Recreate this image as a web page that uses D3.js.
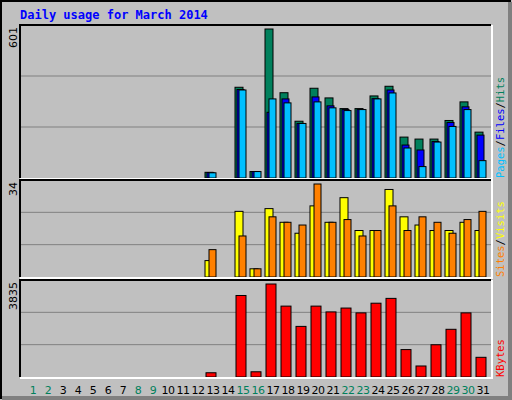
<!DOCTYPE html>
<html>
<head>
  <title>Daily usage for March 2014</title>
  <style>body{margin:0;background:#fff}</style>
</head>
<body>
  <svg id="svg"></svg>
  <script src="https://d3js.org/d3.v7.min.js"></script>
  <script>
    let days = d3.range(1, 32);
    let weekend = [1, 2, 8, 9, 15, 16, 22, 23, 29, 30];
    // 0 = no traffic
    let hits   = [0,0,0,0,0,0,0,0,0,0,0,0,23,0,366,26,601,344,229,362,323,280,280,331,370,165,157,157,232,307,185];
    let files  = [0,0,0,0,0,0,0,0,0,0,0,0,22,0,357,26,265,319,220,327,291,276,276,320,355,133,113,147,224,287,173];
    let pages  = [0,0,0,0,0,0,0,0,0,0,0,0,21,0,355,26,319,303,220,307,283,272,276,319,343,121,46,145,208,276,70];
    let visits = [0,0,0,0,0,0,0,0,0,0,0,0,6,0,24,3,25,20,16,26,20,29,17,17,32,22,19,17,17,20,17];
    let sites  = [0,0,0,0,0,0,0,0,0,0,0,0,10,0,15,3,22,20,19,34,20,21,15,17,26,17,22,20,16,21,24];
    let kbytes = [0,0,0,0,0,0,0,0,0,0,0,0,175,0,3361,215,3835,2923,2087,2923,2684,2843,2644,3043,3242,1131,454,1330,1967,2644,812];

    let svg = d3.select("#svg").attr("width", 512).attr("height", 400);
    svg.append("rect").attr("width", 512).attr("height", 400).attr("fill", "#c0c0c0");
    svg.append("path").attr("d", "M1,399V1H511").attr("stroke", "#000").attr("stroke-width", 2).attr("fill", "none");
    svg.append("path").attr("d", "M2,398H510V2").attr("stroke", "#808080").attr("stroke-width", 4).attr("fill", "none");

    svg.append("text").attr("x", 20).attr("y", 19).text("Daily usage for March 2014")
      .attr("font-family", "DejaVu Sans Mono").attr("font-weight", "bold").attr("font-size", 12).attr("fill", "#0000ff");

    let x = d3.scaleLinear().domain([1, 31]).range([25, 475]);
    let x0 = 20, x1 = 491;

    function panel(top, bottom, max, label, series, legend) {
      let y = d3.scaleLinear().domain([0, max]).range([bottom, top + 4]);
      let g = svg.append("g");
      [1, 2].forEach(i => g.append("line").attr("x1", x0).attr("x2", x1)
        .attr("y1", top + (bottom - top) * i / 3).attr("y2", top + (bottom - top) * i / 3)
        .attr("stroke", "#808080"));
      series.forEach(s => {
        g.selectAll(null).data(days.filter(d => s.values[d - 1] > 0)).join("rect")
          .attr("x", d => x(d) + s.dx).attr("width", s.w)
          .attr("y", d => y(s.values[d - 1])).attr("height", d => bottom - y(s.values[d - 1]))
          .attr("fill", s.color).attr("stroke", "#000");
      });
      g.append("path").attr("d", `M${x0},${bottom}V${top}H${x1}`).attr("stroke", "#000").attr("stroke-width", 2).attr("fill", "none");
      g.append("path").attr("d", `M${x0},${bottom + 1}H${x1 + 1}V${top}`).attr("stroke", "#fff").attr("stroke-width", 2).attr("fill", "none");
      g.append("text").attr("transform", `translate(17,${top + 2}) rotate(-90)`).attr("text-anchor", "end")
        .attr("font-family", "DejaVu Sans").attr("font-size", 11).text(label);
      let t = g.append("text").attr("transform", `translate(504,${bottom}) rotate(-90)`)
        .attr("font-family", "DejaVu Sans Mono").attr("font-size", 10.5);
      legend.forEach((l, i) => {
        if (i) t.append("tspan").attr("fill", "#000").text("/");
        t.append("tspan").attr("fill", l[1]).text(l[0]);
      });
    }

    panel(25, 178, 601, "601", [
      { values: hits, color: "#00805c", dx: 0, w: 8 },
      { values: files, color: "#0000ff", dx: 2, w: 7 },
      { values: pages, color: "#00c0ff", dx: 4, w: 7 }
    ], [["Pages", "#00c0ff"], ["Files", "#0000ff"], ["Hits", "#00805c"]]);

    panel(180, 277, 34, "34", [
      { values: visits, color: "#ffff00", dx: 0, w: 8 },
      { values: sites, color: "#ff8000", dx: 4, w: 7 }
    ], [["Sites", "#ff8000"], ["Visits", "#ffff00"]]);

    panel(280, 377, 3835, "3835", [
      { values: kbytes, color: "#ff0000", dx: 1, w: 10 }
    ], [["KBytes", "#ff0000"]]);

    svg.selectAll(".day").data(days).join("text")
      .attr("x", d => x(d) + 8).attr("y", 394).attr("text-anchor", "middle")
      .attr("font-family", "DejaVu Sans").attr("font-size", 11).attr("letter-spacing", -0.5)
      .attr("fill", d => weekend.includes(d) ? "#00805c" : "#000").text(d => d);
  </script>
</body>
</html>
